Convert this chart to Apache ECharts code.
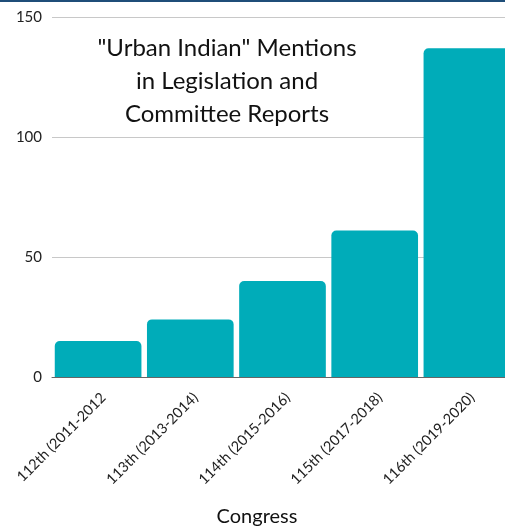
<!DOCTYPE html>
<html>
<head>
<meta charset="utf-8">
<script src="https://cdn.jsdelivr.net/npm/echarts@6/dist/echarts.min.js"></script>
<style>
  html, body { margin: 0; padding: 0; background: #fff; }
  #topbar { position: absolute; left: 0; top: 0; width: 505px; height: 2px; background: #1f4e79; }
  #chart { width: 505px; height: 527px; }
</style>
</head>
<body>
<div id="topbar"></div>
<div id="chart"></div>
<script>
const congresses = ['112th (2011-2012', '113th (2013-2014)', '114th (2015-2016)', '115th (2017-2018)', '116th (2019-2020)'];
const mentions = [15, 24, 40, 61, 137];
const yTicks = [0, 50, 100, 150];

const chart = echarts.init(document.getElementById('chart'), null, { renderer: 'canvas' });
chart.setOption({
  animation: false,
  textStyle: { fontFamily: 'Lato, sans-serif' },
  title: {
    text: '"Urban Indian" Mentions\nin Legislation and\nCommittee Reports',
    left: 222,
    top: 27,
    textAlign: 'center',
    textStyle: { fontFamily: 'Lato, sans-serif', fontWeight: 'normal', fontSize: 24, color: '#111', lineHeight: 33 }
  },
  grid: { left: 52, top: 17, width: 461, height: 360, containLabel: false, outerBoundsMode: 'none' },
  xAxis: {
    type: 'category',
    data: congresses,
    name: 'Congress',
    nameLocation: 'middle',
    nameGap: 130,
    nameTextStyle: { fontSize: 20, color: '#111', padding: [0, 51, 0, 0] },
    axisLine: { lineStyle: { color: '#666' } },
    axisTick: { show: false },
    axisLabel: { rotate: 45, fontSize: 14.5, color: '#222', margin: 13, verticalAlign: 'top', interval: 0 }
  },
  yAxis: {
    type: 'value',
    min: yTicks[0],
    max: yTicks[yTicks.length - 1],
    interval: 50,
    axisLine: { show: false },
    axisTick: { show: false },
    axisLabel: { fontSize: 15, color: '#222', margin: 10 },
    splitLine: { lineStyle: { color: '#c8c8c8' } }
  },
  series: [{
    type: 'bar',
    data: mentions,
    barCategoryGap: '6%',
    itemStyle: { color: '#00acb9', borderRadius: [5, 5, 0, 0] }
  }]
});
</script>
</body>
</html>
